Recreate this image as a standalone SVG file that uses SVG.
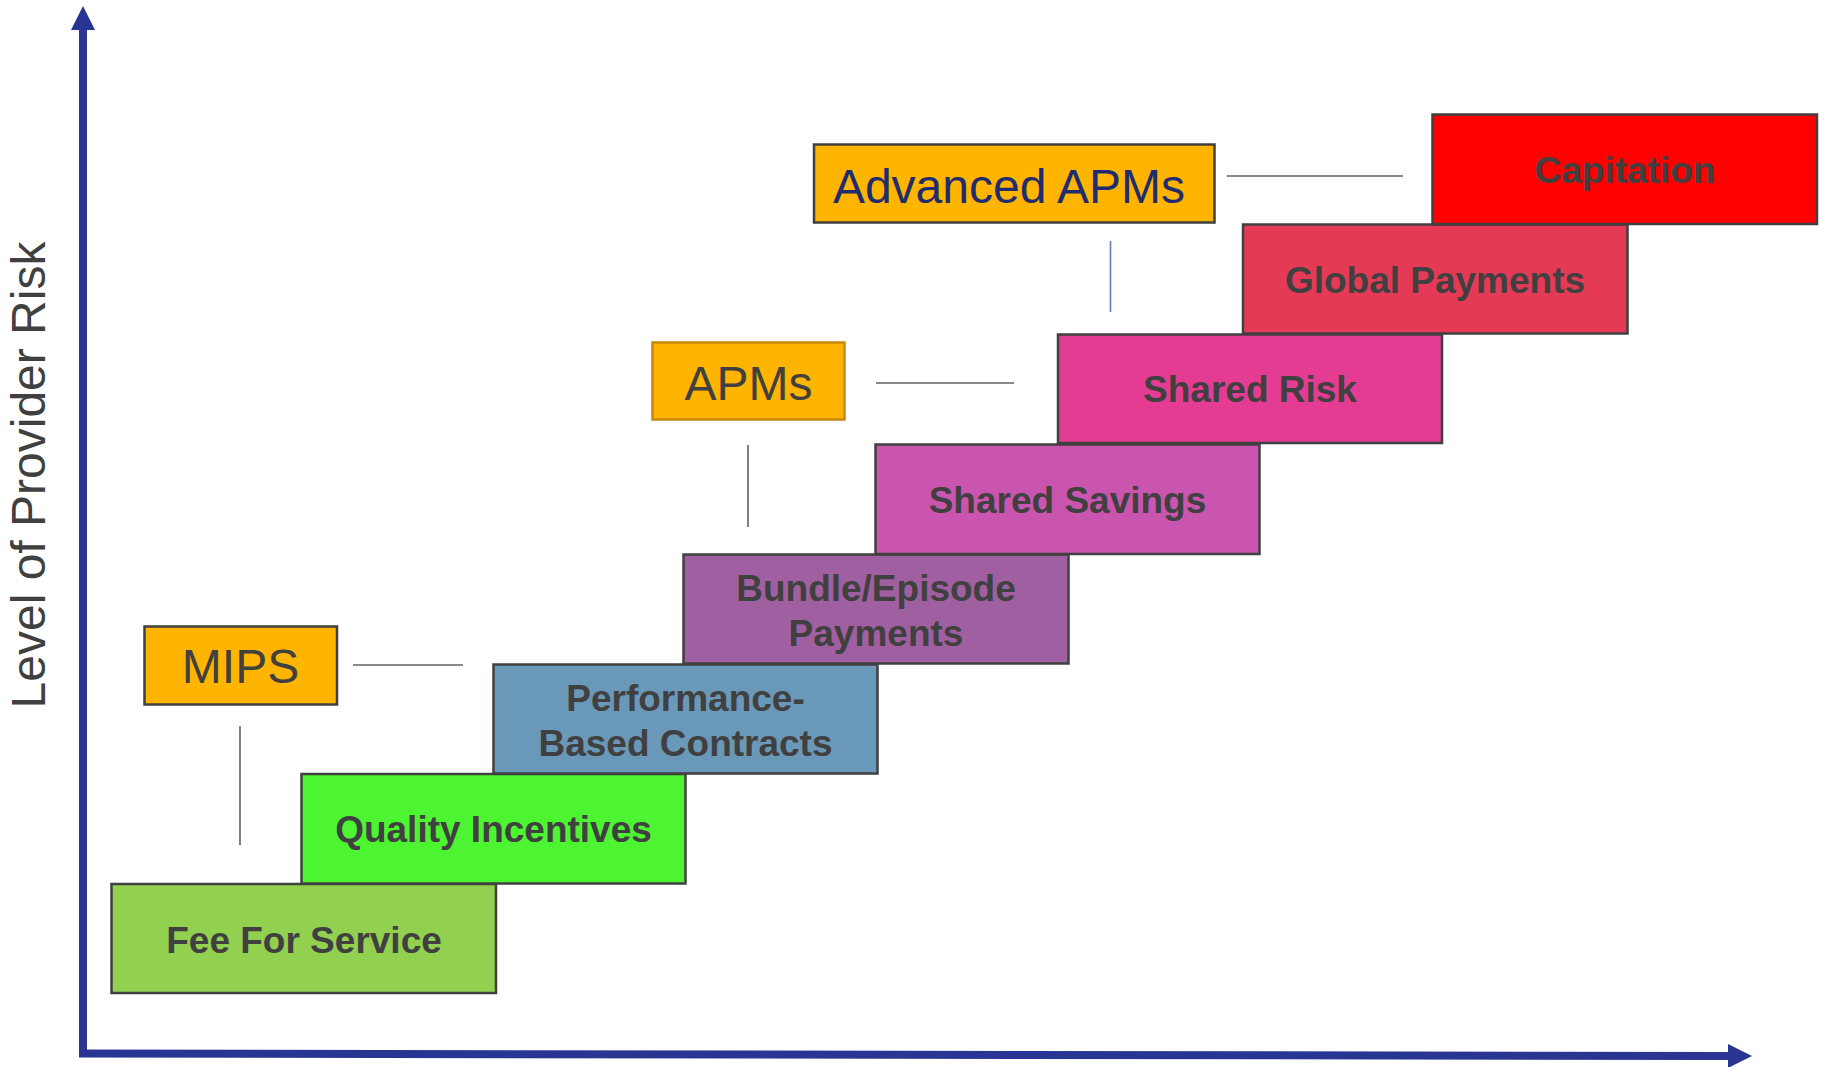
<svg xmlns="http://www.w3.org/2000/svg" width="1825" height="1067" viewBox="0 0 1825 1067">
  <style>
    .step { stroke: #404040; stroke-width: 2.5; }
    .step-label { font-family: "Liberation Sans", Arial, sans-serif; font-weight: bold; font-size: 37px; fill: #404040; text-anchor: middle; }
    .tag { fill: #FFB400; stroke: #404040; stroke-width: 2.5; }
    .tag-label { font-family: "Liberation Sans", Arial, sans-serif; font-size: 48px; fill: #404040; text-anchor: middle; }
    .link { stroke: #606060; stroke-width: 1.6; fill: none; }
    .axis { stroke: #283593; stroke-width: 8; fill: none; }
  </style>

  <!-- axes -->
  <g id="axes">
    <line class="axis" x1="83" y1="28" x2="83" y2="1057"/>
    <polygon points="83,6 71,30 95,30" fill="#283593"/>
    <path class="axis" d="M79,1053.5 L1730,1056"/>
    <polygon points="1752,1056 1728,1044 1728,1068" fill="#283593"/>
    <text transform="translate(45,475) rotate(-90)" font-family="Liberation Sans, Arial, sans-serif" font-size="48" fill="#404040" text-anchor="middle">Level of Provider Risk</text>
  </g>

  <!-- connector lines between program labels and steps -->
  <g id="connectors">
    <line class="link" x1="353" y1="665" x2="463" y2="665"/>
    <line class="link" x1="240" y1="726" x2="240" y2="845"/>
    <line class="link" x1="876" y1="383" x2="1014" y2="383"/>
    <line class="link" x1="748" y1="445" x2="748" y2="527"/>
    <line class="link" x1="1227" y1="176" x2="1403" y2="176"/>
    <line class="link" x1="1110.5" y1="241" x2="1110.5" y2="312" style="stroke:#6B7BBF"/>
  </g>

  <!-- staircase of payment models -->
  <g id="fee-for-service">
    <rect class="step" x="111.5" y="884" width="384.5" height="109" fill="#92D050"/>
    <text class="step-label" x="304" y="952.5">Fee For Service</text>
  </g>
  <g id="quality-incentives">
    <rect class="step" x="301.5" y="774" width="384" height="109.5" fill="#4CF431"/>
    <text class="step-label" x="493.5" y="842">Quality Incentives</text>
  </g>
  <g id="performance-based-contracts">
    <rect class="step" x="493.5" y="664.5" width="384" height="109" fill="#6A98B8"/>
    <text class="step-label" x="685.5" y="710.5">Performance-</text>
    <text class="step-label" x="685.5" y="755.5">Based Contracts</text>
  </g>
  <g id="bundle-episode-payments">
    <rect class="step" x="683.5" y="554.5" width="385" height="109" fill="#A05FA0"/>
    <text class="step-label" x="876" y="600.5">Bundle/Episode</text>
    <text class="step-label" x="876" y="645.5">Payments</text>
  </g>
  <g id="shared-savings">
    <rect class="step" x="875.5" y="444.5" width="384" height="109.5" fill="#CA55AF"/>
    <text class="step-label" x="1067.5" y="513">Shared Savings</text>
  </g>
  <g id="shared-risk">
    <rect class="step" x="1058" y="334.5" width="384" height="108.5" fill="#E43C92"/>
    <text class="step-label" x="1250" y="402">Shared Risk</text>
  </g>
  <g id="global-payments">
    <rect class="step" x="1243" y="224.5" width="384.5" height="109" fill="#E53A56"/>
    <text class="step-label" x="1435" y="293">Global Payments</text>
  </g>
  <g id="capitation">
    <rect class="step" x="1432.5" y="114.5" width="384.5" height="109.5" fill="#FF0000"/>
    <text class="step-label" x="1625" y="183">Capitation</text>
  </g>

  <!-- program labels -->
  <g id="mips">
    <rect class="tag" x="144.5" y="626.5" width="192.5" height="78"/>
    <text class="tag-label" x="240.5" y="683">MIPS</text>
  </g>
  <g id="apms">
    <rect class="tag" x="652.5" y="342.5" width="192" height="77" style="stroke:#C8880A"/>
    <text class="tag-label" x="748.5" y="400">APMs</text>
  </g>
  <g id="advanced-apms">
    <rect class="tag" x="814" y="144.5" width="400.5" height="78"/>
    <text class="tag-label" x="1009" y="202.5" style="fill:#1F2C6E">Advanced APMs</text>
  </g>
</svg>
